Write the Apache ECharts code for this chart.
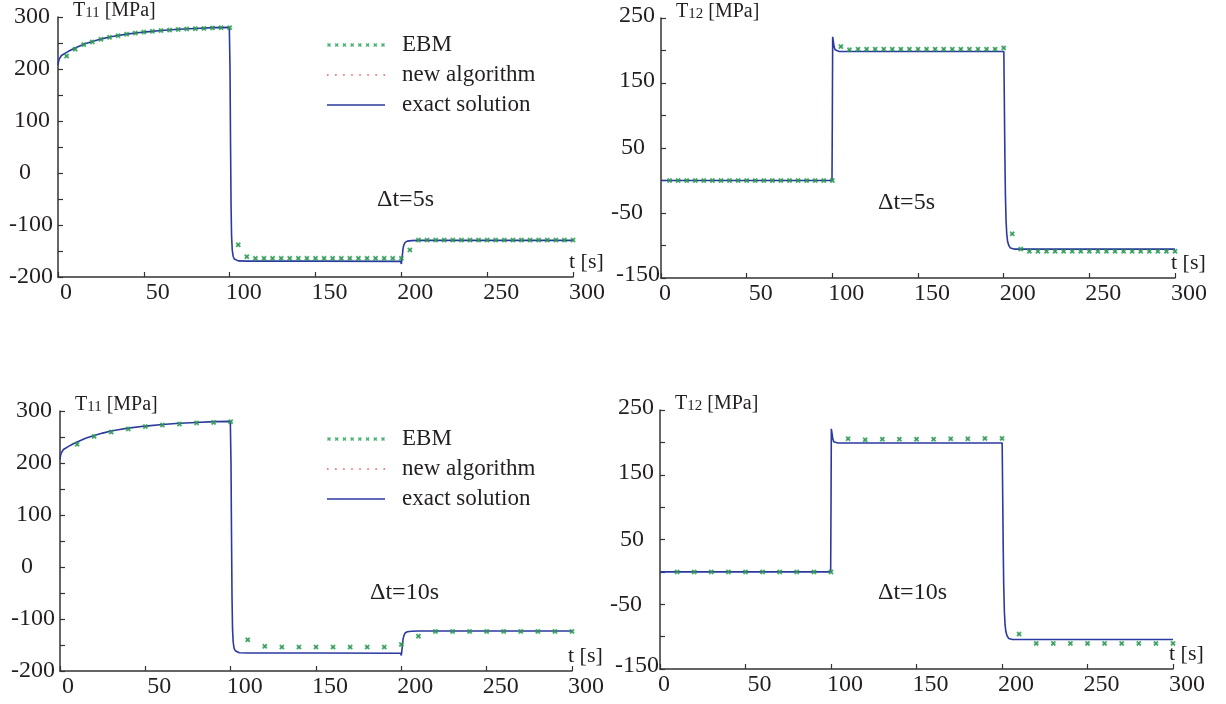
<!DOCTYPE html>
<html><head><meta charset="utf-8">
<script src="https://cdn.jsdelivr.net/npm/echarts@6/dist/echarts.min.js"></script>
<style>html,body{margin:0;padding:0;background:#fff}#c{width:1226px;height:704px}</style>
</head><body><div id="c"></div>
<script>
// ---------- DATA ----------
const tEBM5 = [5,10,15,20,25,30,35,40,45,50,55,60,65,70,75,80,85,90,95,100,105,110,115,120,125,130,135,140,145,150,155,160,165,170,175,180,185,190,195,200,205,210,215,220,225,230,235,240,245,250,255,260,265,270,275,280,285,290,295,300];
const tEBM10 = [10,20,30,40,50,60,70,80,90,100,110,120,130,140,150,160,170,180,190,200,210,220,230,240,250,260,270,280,290,300];

// EBM, dt = 5 s
const ebm5T11 = [225,238,247,252,257,261,264,267,269,271,272.5,274,275,276,277,277.5,278,279,279.5,279.5,
  -138,-161,-164,-164,-164,-164,-164,-164,-164,-164,-164,-164,-164,-164,-164,-164,-164,-164,-164,-164,
  -148,-129,-129,-129,-129,-129,-129,-129,-129,-129,-129,-129,-129,-129,-129,-129,-129,-129,-129,-129];
const ebm5T12 = [0,0,0,0,0,0,0,0,0,0,0,0,0,0,0,0,0,0,0,0,
  206,201,202,202,202,202,202,202,202,202,202,202,202,202,202,202,202,202,202,204,
  -82,-105.5,-109,-109,-109,-109,-109,-109,-109,-109,-109,-109,-109,-109,-109,-109,-109,-109,-109,-109];
// EBM, dt = 10 s
const ebm10T11 = [236,251,259.5,265.5,270,273,275,277,278,279.5,
  -140,-152.5,-154,-154,-154,-154,-154,-154,-154,-149,
  -133,-124,-124,-124,-124,-124,-124,-124,-124,-124];
const ebm10T12 = [0,0,0,0,0,0,0,0,0,0,
  205.6,204,205,205,205,205,205.5,205.5,206,206,
  -96,-110.6,-110.6,-110.6,-110.6,-110.6,-110.6,-110.6,-110.6,-110.6];
// new algorithm (lies under the EBM markers)
const newAlg5T11 = ebm5T11, newAlg5T12 = ebm5T12, newAlg10T11 = ebm10T11, newAlg10T12 = ebm10T12;

// exact solution [t, value]
const exactT11a = [[0,207],[0.3,214],[0.7,219],[1,222],[2,226],[3,228.5],[5,232],[7.5,236.5],[10,240.5],[15,247.5],[20,253],[25,257.5],[30,261.5],[35,264.5],[40,267],[50,271],[60,274],[70,276.5],[80,278],[90,279.5],[99.8,280],
  [100.2,200],[100.5,60],[100.8,-60],[101.1,-120],[101.5,-148],[102,-160],[102.7,-165.5],[103.5,-168],[105,-169],[110,-169.5],[150,-169.5],[199.6,-170],
  [200,-175],[200.3,-172],[200.6,-158],[201,-145],[201.5,-138],[202.2,-133.5],[203.5,-131],[206,-130],[210,-129.5],[300,-129.5]];
const exactT11b = [[0,207],[0.3,214],[0.7,219],[1,222],[2,226],[3,228.5],[5,232],[7.5,236.5],[10,240.5],[15,247.5],[20,253],[25,257.5],[30,261.5],[35,264.5],[40,267],[50,271],[60,274],[70,276.5],[80,278],[90,279.5],[99.8,280],
  [100.2,200],[100.5,60],[100.8,-60],[101.1,-120],[101.5,-145],[102,-156],[102.7,-161],[103.5,-164],[105,-165],[110,-165.5],[150,-165.5],[199.6,-166],
  [200,-170],[200.3,-167],[200.6,-152],[201,-139],[201.5,-132],[202.2,-127],[203.5,-124.5],[206,-123.5],[210,-123],[300,-123]];
const exactT12a = [[0,0],[99.8,0],[100,100],[100.2,221],[100.6,214],[101,206],[101.6,201],[102.5,199],[104,198.5],[150,198.5],[200.1,198.5],
  [200.4,120],[200.7,40],[201,-20],[201.4,-62],[201.8,-82],[202.3,-94],[203,-100],[204,-104],[206,-105.5],[300,-105.5]];
const exactT12b = [[0,0],[99.8,0],[100,100],[100.2,221],[100.6,214],[101,206],[101.6,201],[102.5,199.5],[104,199],[150,199],[200.1,199],
  [200.4,120],[200.7,40],[201,-20],[201.4,-62],[201.8,-82],[202.3,-93],[203,-99],[204,-103],[206,-104.5],[300,-104.5]];

const legendNames = ['EBM','new algorithm','exact solution'];
const deltaLabels = ['Δt=5s','Δt=5s','Δt=10s','Δt=10s'];
const yTitles = ['11','12','11','12'];

// ---------- STYLE ----------
const FONT = '"Liberation Serif","Times New Roman",serif';
const INK = '#231f20';
const AX = '#333333';
const BLUE = '#2b3a9e', GREEN = '#1f9e52', RED = '#e8333a';
const XPTS = [[0,1],[1,0],[2,1],[3,0],[4,1],[3,2],[4,3],[3,4],[2,3],[1,4],[0,3],[1,2]];
const XPATH = 'path://' + XPTS.map((q, k) => (k ? 'L' : 'M') + q[0] + ',' + q[1]).join('') + 'Z';

function legendIconCross() {
  let p = 'path://';
  for (let i = 0; i < 8; i++) {
    const x = i * 54 / 7;
    p += XPTS.map((q, k) => (k ? 'L' : 'M') + (q[0] + x).toFixed(2) + ',' + q[1]).join('') + 'Z';
  }
  return p;
}
function legendIconDots() {
  let p = 'path://';
  for (let i = 0; i < 8; i++) {
    const x = i * 56.4 / 7;
    p += 'M' + x.toFixed(2) + ',0L' + (x + 1.6).toFixed(2) + ',0L' + (x + 1.6).toFixed(2) + ',1.6L' + x.toFixed(2) + ',1.6Z';
  }
  return p;
}
const lineIcon = 'path://M0,0L58,0L58,1.6L0,1.6Z';

const grids = [
  {left: 58, top: 17, width: 515, height: 260},
  {left: 661, top: 18, width: 514, height: 260},
  {left: 60, top: 411, width: 512, height: 260},
  {left: 660, top: 410, width: 513, height: 259}
].map(g => Object.assign(g, {containLabel: false, outerBoundsMode: 'none'}));

const txt = (size, extra) => Object.assign({fontSize: size, fontFamily: FONT, color: INK}, extra || {});

function xAxis(gi) {
  const right = gi % 2 === 1;
  return {
    gridIndex: gi, type: 'value', min: 0, max: 300, interval: 50,
    axisLine: {onZero: false, lineStyle: {color: AX, width: 1.5}},
    axisTick: {inside: true, length: 5, lineStyle: {color: AX, width: 1.2}},
    splitLine: {show: false},
    axisLabel: {
      margin: 4,
      formatter: v => v === 0 ? '{z|0}' : '{a|' + v + '}',
      rich: {a: txt(24, {padding: [0, 0, 0, 28]}), z: txt(24, {padding: [0, 0, 0, right ? 8 : 16]})}
    },
    name: 't [s]', nameLocation: 'end', nameGap: -4,
    nameTextStyle: txt(22, {align: 'left', verticalAlign: 'bottom', padding: [0, 0, 4, 0]})
  };
}
function yAxis(gi) {
  const right = gi % 2 === 1;
  let fmt, rich;
  if (!right) {
    fmt = v => {
      if (v === 0) return '{z|0}';
      if (v === 300 || v === 200 || v === 100) return '{a|' + v + '}';
      if (v === -100 || v === -200) return '{n|' + v + '}';
      return '';
    };
    rich = {a: txt(24, {padding: [0, 6, 0, 0]}), z: txt(24, {padding: [0, 25, 0, 0]}), n: txt(24, {padding: [0, 3, 0, 0]})};
  } else {
    fmt = v => {
      if (v === 250 || v === 150) return '{a|' + v + '}';
      if (v === 50) return '{b|50}';
      if (v === -50) return '{c|-50}';
      if (v === -150) return '{d|-150}';
      return '';
    };
    rich = {a: txt(24, {padding: [0, 5, 4, 0]}), b: txt(24, {padding: [0, 15, 0, 0]}), c: txt(24, {padding: [0, 17, 0, 0]}), d: txt(24, {padding: [0, 0, 6, 0]})};
  }
  return {
    gridIndex: gi, type: 'value',
    min: right ? -150 : -200, max: right ? 250 : 300, interval: 50,
    axisLine: {onZero: false, lineStyle: {color: AX, width: 1.5}},
    axisTick: {inside: true, length: 5, lineStyle: {color: AX, width: 1.2}},
    splitLine: {show: false},
    axisLabel: {margin: right ? 1 : 2, formatter: fmt, rich: rich},
    name: '{t|T}{s|' + yTitles[gi] + '}{t| [MPa]}', nameLocation: 'end', nameGap: 6,
    nameTextStyle: {align: 'left', verticalAlign: 'middle', padding: [0, 0, 0, 15],
      rich: {t: txt(20, {verticalAlign: 'bottom', lineHeight: 20}), s: txt(15, {verticalAlign: 'bottom', lineHeight: 17})}}
  };
}

const panels = [
  {t: tEBM5, ebm: ebm5T11, nav: newAlg5T11, ex: exactT11a},
  {t: tEBM5, ebm: ebm5T12, nav: newAlg5T12, ex: exactT12a},
  {t: tEBM10, ebm: ebm10T11, nav: newAlg10T11, ex: exactT11b},
  {t: tEBM10, ebm: ebm10T12, nav: newAlg10T12, ex: exactT12b}
];
const series = [];
panels.forEach((p, gi) => {
  series.push({
    name: legendNames[2], type: 'line', xAxisIndex: gi, yAxisIndex: gi, data: p.ex,
    showSymbol: false, symbol: 'none', color: BLUE, lineStyle: {color: BLUE, width: 1.6}, z: 2
  });
  series.push({
    name: legendNames[1], type: 'scatter', xAxisIndex: gi, yAxisIndex: gi,
    data: p.t.map((t, i) => [t, p.nav[i]]), symbol: 'rect', symbolSize: 2, color: RED, z: 3
  });
  series.push({
    name: legendNames[0], type: 'scatter', xAxisIndex: gi, yAxisIndex: gi,
    data: p.t.map((t, i) => [t, p.ebm[i]]), symbol: XPATH, symbolSize: 5.5, color: GREEN, z: 4
  });
});

function legend(top) {
  return {
    orient: 'vertical', left: 322, top: top, itemWidth: 58, itemHeight: 4, itemGap: 6,
    selectedMode: false,
    textStyle: txt(23, {lineHeight: 24, padding: [0, 0, 0, 12]}),
    data: [
      {name: legendNames[0], icon: legendIconCross()},
      {name: legendNames[1], icon: legendIconDots()},
      {name: legendNames[2], icon: lineIcon}
    ]
  };
}

const titlePos = [[377, 188], [878, 191], [370, 581], [878, 581]];
const option = {
  animation: false,
  backgroundColor: '#ffffff',
  grid: grids,
  xAxis: [0, 1, 2, 3].map(xAxis),
  yAxis: [0, 1, 2, 3].map(yAxis),
  legend: [legend(28), legend(422)],
  title: deltaLabels.map((s, i) => ({text: s, left: titlePos[i][0], top: titlePos[i][1], padding: 0,
    textStyle: txt(24, {fontWeight: 'normal'})})),
  series: series
};
const chart = echarts.init(document.getElementById('c'), null, {renderer: 'canvas'});
chart.setOption(option);
</script>
</body></html>
